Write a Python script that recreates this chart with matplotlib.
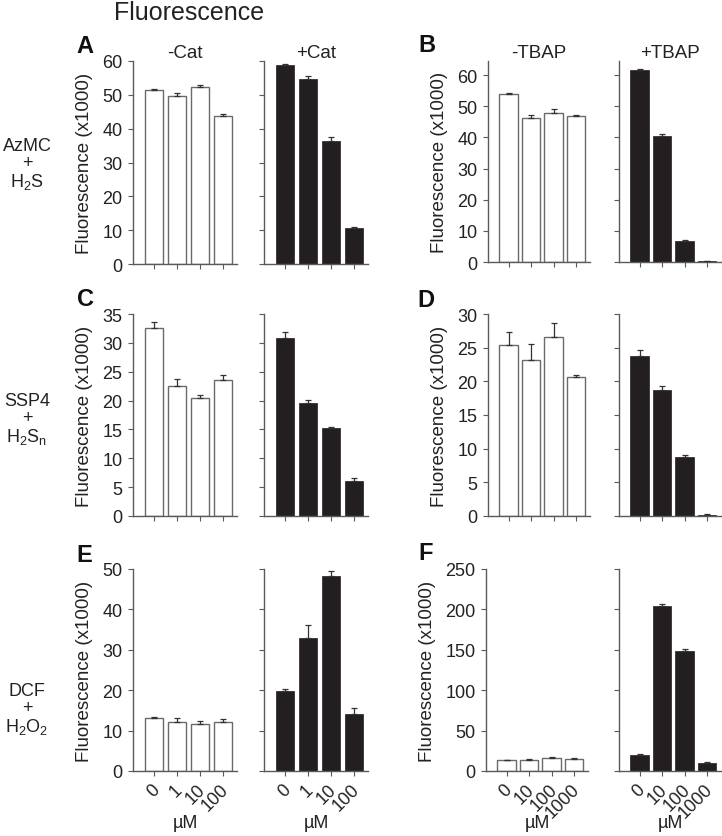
import matplotlib
matplotlib.use('Agg')
import matplotlib.pyplot as plt
import matplotlib.transforms as mtransforms
import numpy as np

plt.rcParams['font.family'] = ['Liberation Sans', 'DejaVu Sans']
plt.rcParams['mathtext.fontset'] = 'custom'
plt.rcParams['mathtext.rm'] = 'Liberation Sans'
plt.rcParams['mathtext.it'] = 'Liberation Sans:italic'

# concentrations (uM)
conc_cat = ['0', '1', '10', '100']
conc_tbap = ['0', '10', '100', '1000']

# A: AzMC + H2S
a_minus = [51.3, 49.7, 52.3, 43.8]
a_minus_err = [0.3, 0.9, 0.6, 0.5]
a_plus = [58.8, 54.8, 36.5, 10.6]
a_plus_err = [0.3, 0.9, 0.9, 0.3]
# B
b_minus = [53.9, 46.2, 47.9, 46.7]
b_minus_err = [0.4, 0.9, 1.3, 0.6]
b_plus = [61.6, 40.3, 6.7, 0.3]
b_plus_err = [0.2, 0.7, 0.2, 0.1]
# C: SSP4 + H2Sn
c_minus = [32.6, 22.5, 20.5, 23.5]
c_minus_err = [1.1, 1.2, 0.4, 1.0]
c_plus = [30.9, 19.5, 15.2, 6.1]
c_plus_err = [0.9, 0.6, 0.2, 0.4]
# D
d_minus = [25.4, 23.2, 26.6, 20.7]
d_minus_err = [1.9, 2.3, 2.0, 0.3]
d_plus = [23.7, 18.7, 8.7, 0.2]
d_plus_err = [0.9, 0.6, 0.3, 0.1]
# E: DCF + H2O2
e_minus = [13.0, 12.1, 11.7, 12.1]
e_minus_err = [0.4, 1.0, 0.8, 0.8]
e_plus = [19.8, 32.9, 48.2, 14.0]
e_plus_err = [0.4, 3.3, 1.3, 1.7]
# F
f_minus = [13.2, 13.6, 16.5, 14.8]
f_minus_err = [1.0, 0.8, 1.2, 0.8]
f_plus = [20.2, 203.9, 149.1, 10.3]
f_plus_err = [0.8, 2.4, 1.6, 0.8]

W, H = 722, 837
fig = plt.figure(figsize=(W / 100, H / 100), dpi=100)

SPINE = '#5a5a5a'
BLACK = '#231f20'
FS = 13


def px_axes(x0, top, bottom, width=104):
    return fig.add_axes([x0 / W, 1 - bottom / H, width / W, (bottom - top) / H])


def draw(ax, vals, errs, ymax, step, filled, ticklabels=None, ylabel=False, title=None):
    x = np.arange(len(vals))
    if filled:
        ax.bar(x, vals, width=0.82, color=BLACK, edgecolor=BLACK, linewidth=0.5, zorder=2)
    else:
        ax.bar(x, vals, width=0.82, color='white', edgecolor='#6a6a6a', linewidth=1.0, zorder=2)
    ax.errorbar(x, vals, yerr=[np.zeros(len(vals)), errs], fmt='none',
                ecolor='#333333', elinewidth=0.9, capsize=2.5, capthick=0.9, zorder=3)
    ax.set_xlim(-0.91, 3.61)
    ax.set_ylim(0, ymax)
    ax.set_yticks(np.arange(0, ymax + 0.01, step))
    ax.set_xticks(x)
    for s in ['top', 'right']:
        ax.spines[s].set_visible(False)
    for s in ['left', 'bottom']:
        ax.spines[s].set_color(SPINE)
        ax.spines[s].set_linewidth(1.0)
    ax.tick_params(direction='out', length=3.5, width=0.8, color=SPINE,
                   labelsize=FS, labelcolor='#222222', pad=4)
    if ticklabels is None:
        ax.set_xticklabels([])
    else:
        ax.set_xticklabels(ticklabels, rotation=45, ha='right', va='center',
                           rotation_mode='anchor')
        ax.tick_params(axis='x', pad=7.5)
        shift = mtransforms.ScaledTranslation(3 / 100, 0, fig.dpi_scale_trans)
        for lab in ax.get_xticklabels():
            lab.set_transform(lab.get_transform() + shift)
        ax.text(0.5, -0.255, 'µM', transform=ax.transAxes, ha='center', va='center',
                fontsize=FS, color='#222222')
    if ylabel:
        ax.set_ylabel('Fluorescence (x1000)', fontsize=FS + 0.5, color='#222222', labelpad=7)
    else:
        ax.set_yticklabels([])
    if title:
        ax.set_title(title, fontsize=FS + 0.5, color='#222222', pad=2)


rows = [(62, 265), (315, 517), (570, 772)]

ax = px_axes(133, *rows[0]); draw(ax, a_minus, a_minus_err, 60, 10, False, ylabel=True, title='-Cat')
ax = px_axes(264, *rows[0]); draw(ax, a_plus, a_plus_err, 60, 10, True, title='+Cat')
ax = px_axes(488, 62, 263, 102); draw(ax, b_minus, b_minus_err, 64.5, 10, False, ylabel=True, title='-TBAP')
ax = px_axes(619, 62, 263, 102); draw(ax, b_plus, b_plus_err, 64.5, 10, True, title='+TBAP')

ax = px_axes(133, *rows[1]); draw(ax, c_minus, c_minus_err, 35, 5, False, ylabel=True)
ax = px_axes(264, *rows[1]); draw(ax, c_plus, c_plus_err, 35, 5, True)
ax = px_axes(488, *rows[1], 102); draw(ax, d_minus, d_minus_err, 30, 5, False, ylabel=True)
ax = px_axes(619, *rows[1], 102); draw(ax, d_plus, d_plus_err, 30, 5, True)

ax = px_axes(133, *rows[2]); draw(ax, e_minus, e_minus_err, 50, 10, False, conc_cat, ylabel=True)
ax = px_axes(264, *rows[2]); draw(ax, e_plus, e_plus_err, 50, 10, True, conc_cat)
ax = px_axes(486, *rows[2], 102); draw(ax, f_minus, f_minus_err, 250, 50, False, conc_tbap, ylabel=True)
ax = px_axes(619, *rows[2], 102); draw(ax, f_plus, f_plus_err, 250, 50, True, conc_tbap)

# figure title and panel letters
fig.text(189 / W, 1 - 13 / H, 'Fluorescence', ha='center', va='center', fontsize=18, color='#222222')
letters = [('A', 76, 53), ('B', 418, 52), ('C', 77, 306), ('D', 417, 307), ('E', 76, 562), ('F', 418, 560)]
for lab, lx, ly in letters:
    fig.text(lx / W, 1 - ly / H, lab, ha='left', va='baseline', fontsize=17,
             fontweight='bold', color='#111111')

# row labels
row_labels = [('AzMC\n+\nH$_\\mathregular{2}$S', 165),
              ('SSP4\n+\nH$_\\mathregular{2}$S$_\\mathregular{n}$', 420),
              ('DCF\n+\nH$_\\mathregular{2}$O$_\\mathregular{2}$', 710)]
for txt, ry in row_labels:
    fig.text(27 / W, 1 - ry / H, txt, ha='center', va='center', fontsize=FS,
             color='#222222', linespacing=1.0, multialignment='center')

fig.savefig('out.png', dpi=100)
